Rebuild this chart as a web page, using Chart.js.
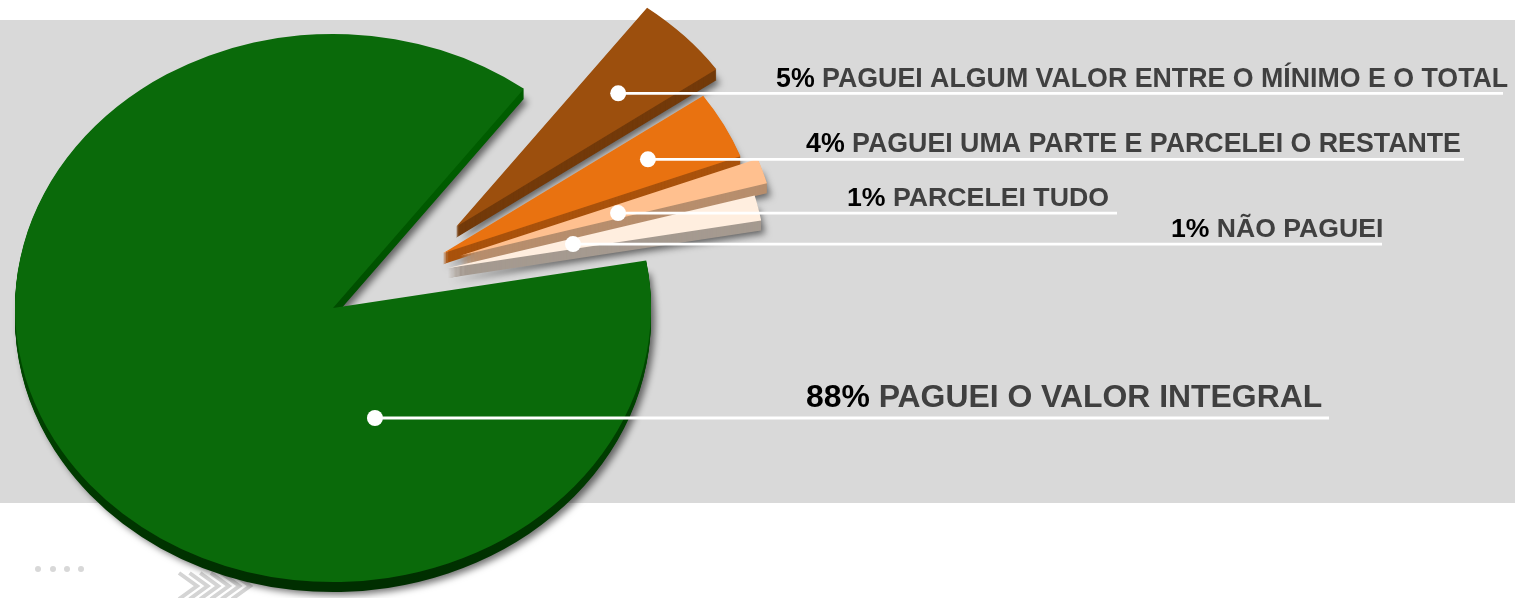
<!DOCTYPE html>
<html lang="pt-BR">
<head>
<meta charset="utf-8">
<script src="https://cdn.jsdelivr.net/npm/chart.js@4"></script>
<style>
html,body{margin:0;padding:0;background:#fff;overflow:hidden}
#wrap{position:relative;width:1515px;height:598px}
canvas{display:block}
</style>
</head>
<body>
<div id="wrap"><canvas id="c" width="1515" height="598"></canvas></div>
<script>
// ---- data ----
const categories = ["PAGUEI ALGUM VALOR ENTRE O MÍNIMO E O TOTAL","PAGUEI UMA PARTE E PARCELEI O RESTANTE","PARCELEI TUDO","NÃO PAGUEI","PAGUEI O VALOR INTEGRAL"];
const percentLabels = ["5%","4%","1%","1%","88%"];
const values = [5, 4, 1.49, 1.49, 88.02];

// ---- styling ----
const faceColors = ["#9C4F0D","#E97210","#FFC08F","#FFEEDF","#0A6A0A"];
const sideColors = ["#733A0A","#A9520C","#B78E6D","#A59A90","#004500"];
const explodeDist = [155,127,141,124,0];
const explodeAngle = [52.6,60,64.5,68,0];
const depth = [11,11,10,10,10];
const SQUASH = 0.862;
// leader anchors: polar position inside each slice (fraction of radius, degrees)
const anchorFrac = [0.705,0.73,0.52,0.4027,0.4224];
const anchorAngle = [46.3,62,72.6,77.5,161.8];
const lineEnd = [1503,1464,1117,1382,1329];
const textX = [776,806,847,1171,806];
const textBaselineGap = [6,7,7,7,11];
const fontSize = [26.75,26.75,26.7,26.6,31.9];

const rad = d => d*Math.PI/180;

const piePlugin = {
  id:'piePlugin',
  beforeDraw(chart){
    const c = chart.ctx;
    c.save();
    c.fillStyle='#fff'; c.fillRect(0,0,chart.width,chart.height);
    c.fillStyle='#D9D9D9'; c.fillRect(0,20,chart.width,483);
    // decoration: dots
    c.fillStyle='#D8D8D8';
    [38,53,67,81].forEach(x=>{c.beginPath();c.arc(x,569,3,0,7);c.fill();});
    // decoration: chevrons
    c.strokeStyle='#D4D4D4'; c.lineWidth=4;
    for(let k=0;k<6;k++){
      const dx=k*10.6;
      c.beginPath();c.moveTo(179+dx,573);c.lineTo(197+dx,586);c.lineTo(179+dx,599);c.stroke();
    }
    c.restore();
  },
  beforeDatasetDraw(chart,args){
    const c = chart.ctx;
    const arcs = chart.getDatasetMeta(0).data;
    const greenSide = c.createLinearGradient(0,150,0,620);
    greenSide.addColorStop(0,'#005C00');
    greenSide.addColorStop(1,'#002E00');
    const place = (arc,i,dy)=>{
      c.translate(0,dy);
      c.translate(arc.x,arc.y);
      c.scale(1,SQUASH);
      c.translate(-arc.x,-arc.y);
      const a = rad(explodeAngle[i]);
      c.translate(Math.sin(a)*explodeDist[i],-Math.cos(a)*explodeDist[i]);
    };
    const base = {borderWidth:0,borderColor:'transparent',borderAlign:'center',offset:0,spacing:0,circular:true,borderRadius:0,borderJoinStyle:'round'};
    arcs.forEach((arc,i)=>{
      const face = arc.options;
      arc.options = Object.assign({},base,{backgroundColor:i===4?greenSide:sideColors[i]});
      // extruded side, with a soft shadow under its deepest layer
      c.save();
      c.shadowColor='rgba(0,0,0,0.55)';c.shadowBlur=7;c.shadowOffsetX=4;c.shadowOffsetY=3;
      place(arc,i,depth[i]);
      arc.draw(c);
      c.restore();
      for(let d=depth[i]-1;d>0;d--){
        c.save();place(arc,i,d);arc.draw(c);c.restore();
      }
      arc.options = face;
      c.save();place(arc,i,0);arc.draw(c);c.restore();
    });
    return false;
  },
  afterDraw(chart){
    const c = chart.ctx;
    const arcs = chart.getDatasetMeta(0).data;
    c.save();
    c.textBaseline='alphabetic';c.textAlign='left';
    arcs.forEach((arc,i)=>{
      const ea=rad(explodeAngle[i]), aa=rad(anchorAngle[i]);
      const r=arc.outerRadius*anchorFrac[i];
      const ax=arc.x+Math.sin(ea)*explodeDist[i]+Math.sin(aa)*r;
      const ay=arc.y+(-Math.cos(ea)*explodeDist[i]-Math.cos(aa)*r)*SQUASH;
      c.strokeStyle='#fff';c.lineWidth=2.8;
      c.beginPath();c.moveTo(ax,ay);c.lineTo(lineEnd[i],ay);c.stroke();
      c.fillStyle='#fff';
      c.beginPath();c.arc(ax,ay,8,0,Math.PI*2);c.fill();
      c.font=`bold ${fontSize[i]}px "Liberation Sans", Arial, sans-serif`;
      const y=ay-textBaselineGap[i];
      const p=percentLabels[i]+' ';
      c.fillStyle='#000';c.fillText(p,textX[i],y);
      const w=c.measureText(p).width;
      c.fillStyle='#404040';c.fillText(categories[i],textX[i]+w,y);
    });
    c.restore();
  }
};

new Chart(document.getElementById('c'),{
  type:'pie',
  data:{labels:categories,datasets:[{data:values,backgroundColor:faceColors,borderWidth:0,clip:false}]},
  options:{
    responsive:false,animation:false,
    rotation:36.9,
    radius:318,
    layout:{padding:{top:18,right:849,bottom:0,left:0}},
    plugins:{legend:{display:false},tooltip:{enabled:false}},
    events:[]
  },
  plugins:[piePlugin]
});
</script>
</body>
</html>
